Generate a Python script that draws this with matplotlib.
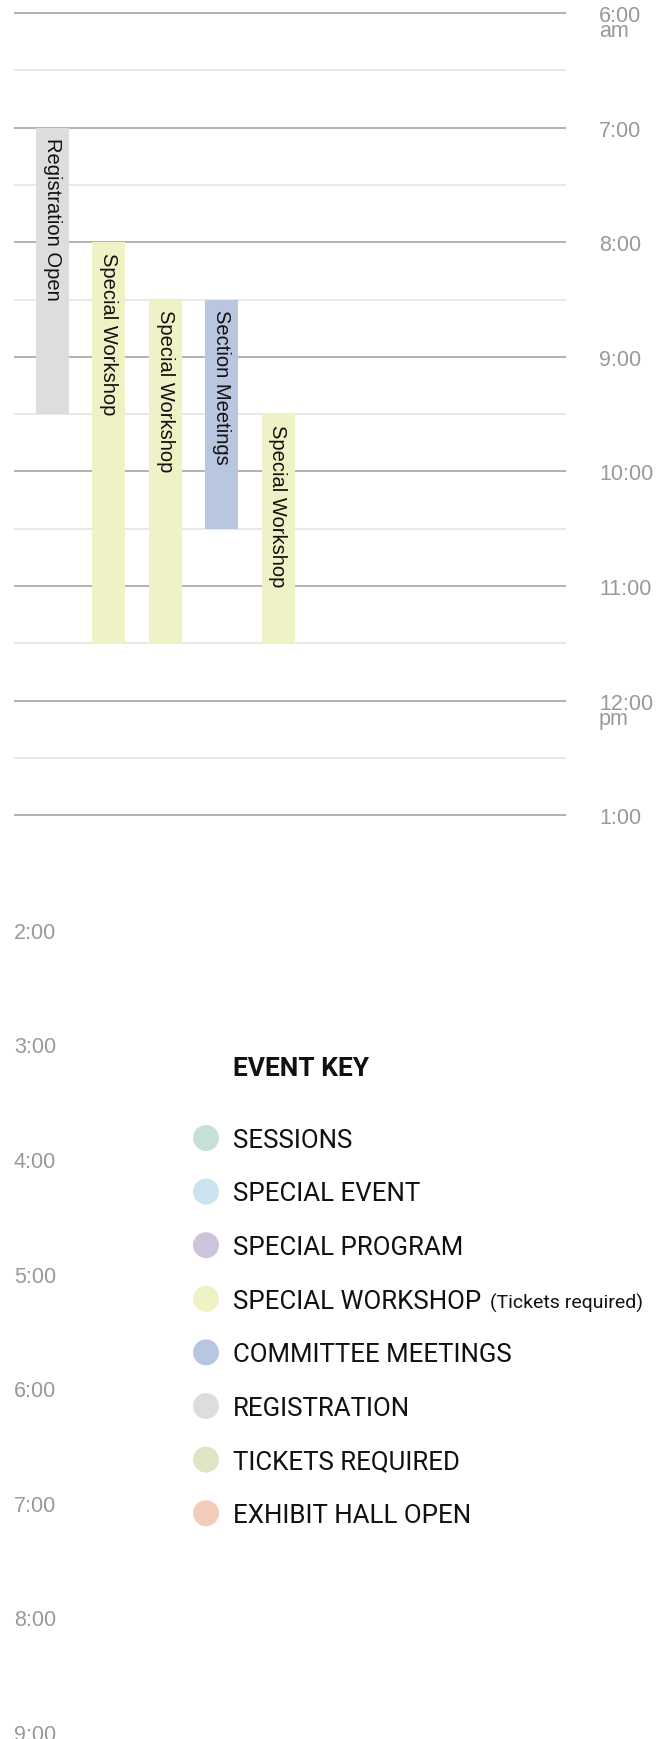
import matplotlib
matplotlib.use("Agg")
import matplotlib.pyplot as plt
import numpy as np

plt.rcParams['font.family'] = ['Liberation Sans', 'DejaVu Sans']

# ---------------- data ----------------
event_labels = ["Registration Open", "Special Workshop", "Special Workshop",
                "Section Meetings", "Special Workshop"]
event_columns = [0, 1, 2, 3, 4]
event_start = [7.0, 8.0, 8.5, 8.5, 9.5]     # hours (24h)
event_end = [9.5, 11.5, 11.5, 10.5, 11.5]
event_colors = ["#dcdddf", "#eef2c4", "#eef2c4", "#b8c6e0", "#eef2c4"]

grid_hours = [6, 7, 8, 9, 10, 11, 12, 13]
grid_half_hours = [6.5, 7.5, 8.5, 9.5, 10.5, 11.5, 12.5]

right_tick_hours = [6, 7, 8, 9, 10, 11, 12, 13]
right_tick_labels = ["6:00", "7:00", "8:00", "9:00", "10:00", "11:00", "12:00", "1:00"]
right_tick_suffix = {6: "am", 12: "pm"}

left_tick_hours = [14, 15, 16, 17, 18, 19, 20, 21]
left_tick_labels = ["2:00", "3:00", "4:00", "5:00", "6:00", "7:00", "8:00", "9:00"]

key_title = "EVENT KEY"
key_labels = ["SESSIONS", "SPECIAL EVENT", "SPECIAL PROGRAM", "SPECIAL WORKSHOP",
              "COMMITTEE MEETINGS", "REGISTRATION", "TICKETS REQUIRED", "EXHIBIT HALL OPEN"]
key_notes = {"SPECIAL WORKSHOP": "(Tickets required)"}
key_colors = ["#c5e0d6", "#cce3ee", "#cdc4dc", "#eef2c4",
              "#b8c6e0", "#dcdddf", "#dfe5c5", "#f2cbbb"]

# ---------------- figure ----------------
W, H, DPI = 671, 1740, 100
fig = plt.figure(figsize=(W / DPI, H / DPI), dpi=DPI)
fig.patch.set_facecolor("white")

PX_PER_HOUR = 114.6
PX_PER_COL = 56.5
COL0_PX = 52.0
HOUR0_PX = 14.0

ax = fig.add_axes([0, 0, 1, 1])
ax.set_xlim(-COL0_PX / PX_PER_COL, (W - COL0_PX) / PX_PER_COL)
ax.set_ylim(6 + (H - HOUR0_PX) / PX_PER_HOUR, 6 - HOUR0_PX / PX_PER_HOUR)
ax.axis("off")

def px2col(px):
    return (px - COL0_PX) / PX_PER_COL

def px2h(px):
    return px / PX_PER_HOUR

line_x0, line_x1 = px2col(14.4), px2col(566)
ax.hlines(grid_half_hours, line_x0, line_x1, colors="#e2e2e2", linewidth=1.1, zorder=1)
ax.hlines(grid_hours, line_x0, line_x1, colors="#9d9d9d", linewidth=1.1, zorder=1)

# bars
starts = np.array(event_start)
ends = np.array(event_end)
ax.bar(event_columns, ends - starts, bottom=starts, width=33 / PX_PER_COL,
       color=event_colors, align="center", zorder=2)
for c, s, lab in zip(event_columns, event_start, event_labels):
    ax.text(c, s + px2h(9.5), lab, rotation=270, ha="center", va="top",
            fontsize=14.5, color="#111111", zorder=3)

# time labels
tick_fs = 15.5
rx = px2col(599)
for hr, lab in zip(right_tick_hours, right_tick_labels):
    if hr in right_tick_suffix:
        # two-line label: baseline of last line (am/pm) sits below the hour line
        ax.text(rx, hr + px2h(23.0), lab + "\n" + right_tick_suffix[hr], ha="left",
                va="baseline", fontsize=tick_fs, color="#999999", linespacing=0.62)
    else:
        ax.text(rx, hr + px2h(8.0), lab, ha="left", va="baseline", fontsize=tick_fs,
                color="#999999")
lx = px2col(14)
for hr, lab in zip(left_tick_hours, left_tick_labels):
    ax.text(lx, hr + px2h(8.0), lab, ha="left", va="baseline", fontsize=tick_fs,
            color="#999999")

# ---------------- event key ----------------
lax = fig.add_axes([0, 0, 1, 1])
lax.set_xlim(0, W)
lax.set_ylim(H, 0)
lax.axis("off")
lax.patch.set_alpha(0)

key_font = ["Roboto", "DejaVu Sans"]
lax.text(233, 1076, key_title, ha="left", va="baseline", fontsize=19,
         fontweight="bold", family=key_font, color="#111111")
item_y0, item_dy = 1139.0, 53.6
ys = item_y0 + item_dy * np.arange(len(key_labels))
lax.scatter(np.full(len(key_labels), 206.0), ys, s=350, c=key_colors,
            edgecolors="none", zorder=3)
for y, lab in zip(ys, key_labels):
    t = lax.text(233, y + 8.8, lab, ha="left", va="baseline", fontsize=18.6,
                 family=key_font, color="#111111")
    if lab in key_notes:
        lax.annotate(key_notes[lab], xy=(1, y + 8.8), xycoords=(t, "data"),
                     xytext=(6, 0), textcoords="offset points",
                     ha="left", va="baseline", fontsize=14,
                     family=key_font, color="#111111")

fig.savefig("out.png", dpi=DPI, facecolor="white")
